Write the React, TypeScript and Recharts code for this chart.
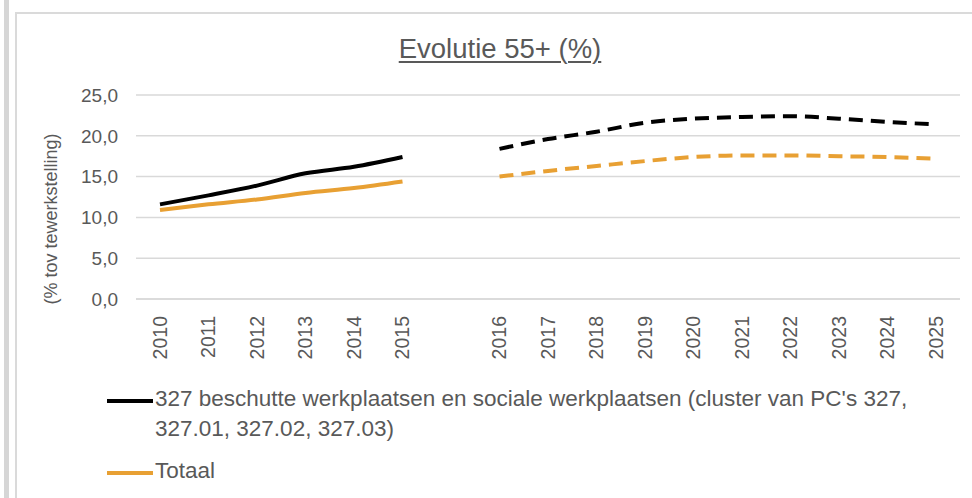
import { ComposedChart, Line, XAxis, YAxis, CartesianGrid } from "recharts";

// categorieën: lege kolom tussen 2015 en 2016 (breuk historiek / projectie)
const jaren = [
  "2010", "2011", "2012", "2013", "2014", "2015", "",
  "2016", "2017", "2018", "2019", "2020", "2021", "2022", "2023", "2024", "2025",
];

const pc327Historiek = [11.6, 12.7, 13.9, 15.4, 16.2, 17.4, null, null, null, null, null, null, null, null, null, null, null];
const pc327Projectie = [null, null, null, null, null, null, null, 18.4, 19.6, 20.5, 21.6, 22.1, 22.3, 22.4, 22.1, 21.7, 21.4];
const totaalHistoriek = [10.9, 11.6, 12.2, 13.0, 13.6, 14.4, null, null, null, null, null, null, null, null, null, null, null];
const totaalProjectie = [null, null, null, null, null, null, null, 15.0, 15.7, 16.3, 16.9, 17.4, 17.6, 17.6, 17.5, 17.4, 17.2];

const yTicks = [0, 5, 10, 15, 20, 25];

const legendItems = [
  { label: "327 beschutte werkplaatsen en sociale werkplaatsen (cluster van PC's 327, 327.01, 327.02, 327.03)", color: "#000000" },
  { label: "Totaal", color: "#e8a033" },
];

const data = jaren.map((jaar, i) => ({
  jaar,
  pc327H: pc327Historiek[i],
  pc327P: pc327Projectie[i],
  totH: totaalHistoriek[i],
  totP: totaalProjectie[i],
}));

const grey = "#595959";
const font = "'Liberation Sans', Arial, sans-serif";

function YLabel({ viewBox }: any) {
  const x = 52;
  const y = viewBox.y + viewBox.height / 2 + 22;
  return (
    <text
      x={x}
      y={y}
      transform={`rotate(-90, ${x}, ${y})`}
      textAnchor="middle"
      dominantBaseline="middle"
      fill={grey}
      fontSize={18}
      fontFamily={font}
    >
      (% tov tewerkstelling)
    </text>
  );
}

// jaartallen verticaal, van onder naar boven gelezen
function YearTick({ x, y, payload }: any) {
  return (
    <text
      x={x}
      y={y}
      dy="0.35em"
      transform={`rotate(-90, ${x}, ${y})`}
      textAnchor="end"
      fill={grey}
      fontSize={19.5}
      fontFamily={font}
    >
      {payload.value}
    </text>
  );
}

export default function App() {
  return (
    <div
      style={{
        position: "absolute",
        top: 0,
        left: 0,
        width: 972,
        height: 498,
        overflow: "hidden",
        background: "#fff",
        fontFamily: font,
      }}
    >
      <div style={{ position: "absolute", left: 4, top: 0, width: 5, height: 498, background: "#d6d6d6" }} />
      <div
        style={{
          position: "absolute",
          left: 15,
          top: 12,
          width: 1000,
          height: 600,
          borderLeft: "2px solid #dadada",
          borderTop: "2px solid #dadada",
        }}
      />
      <div
        style={{
          position: "absolute",
          left: 0,
          top: 33,
          width: 1000,
          textAlign: "center",
          fontSize: 27.5,
          color: grey,
          textDecoration: "underline",
          textDecorationThickness: 2,
          textUnderlineOffset: 3,
        }}
      >
        Evolutie 55+ (%)
      </div>

      <ComposedChart
        width={972}
        height={498}
        data={data}
        margin={{ top: 95, right: 12, left: 30, bottom: 119 }}
        style={{ position: "absolute", left: 0, top: 0 }}
      >
        <CartesianGrid vertical={false} stroke="#d9d9d9" strokeWidth={1.5} />
        <XAxis
          dataKey="jaar"
          interval={0}
          height={80}
          padding={{ left: 24, right: 24 }}
          tickSize={0}
          tickMargin={17}
          axisLine={{ stroke: "#d9d9d9", strokeWidth: 1.5 }}
          tickLine={false}
          tick={<YearTick />}
        />
        <YAxis
          domain={[0, 25]}
          ticks={yTicks}
          width={106}
          tickSize={0}
          tickMargin={18}
          axisLine={false}
          tickLine={false}
          tickFormatter={(v: number) => v.toFixed(1).replace(".", ",")}
          tick={{ fill: grey, fontSize: 19, fontFamily: font }}
          label={<YLabel />}
        />
        <Line dataKey="pc327H" type="monotone" stroke="#000000" strokeWidth={4} dot={false} isAnimationActive={false} />
        <Line dataKey="totH" type="monotone" stroke="#e8a033" strokeWidth={4} dot={false} isAnimationActive={false} />
        <Line dataKey="pc327P" type="monotone" stroke="#000000" strokeWidth={4} strokeDasharray="14 8" dot={false} isAnimationActive={false} />
        <Line dataKey="totP" type="monotone" stroke="#e8a033" strokeWidth={4} strokeDasharray="14 8" dot={false} isAnimationActive={false} />
      </ComposedChart>

      <div style={{ position: "absolute", left: 107, top: 384, width: 820, color: grey, fontSize: 22.5 }}>
        {legendItems.map((item, i) => (
          <div key={item.label} style={{ display: "flex", alignItems: "flex-start", marginTop: i === 0 ? 0 : 12 }}>
            <span
              style={{
                display: "inline-block",
                width: 46,
                height: 4,
                background: item.color,
                marginTop: 15,
                flexShrink: 0,
              }}
            />
            <span style={{ lineHeight: "30px", paddingLeft: 2 }}>{item.label}</span>
          </div>
        ))}
      </div>
    </div>
  );
}
